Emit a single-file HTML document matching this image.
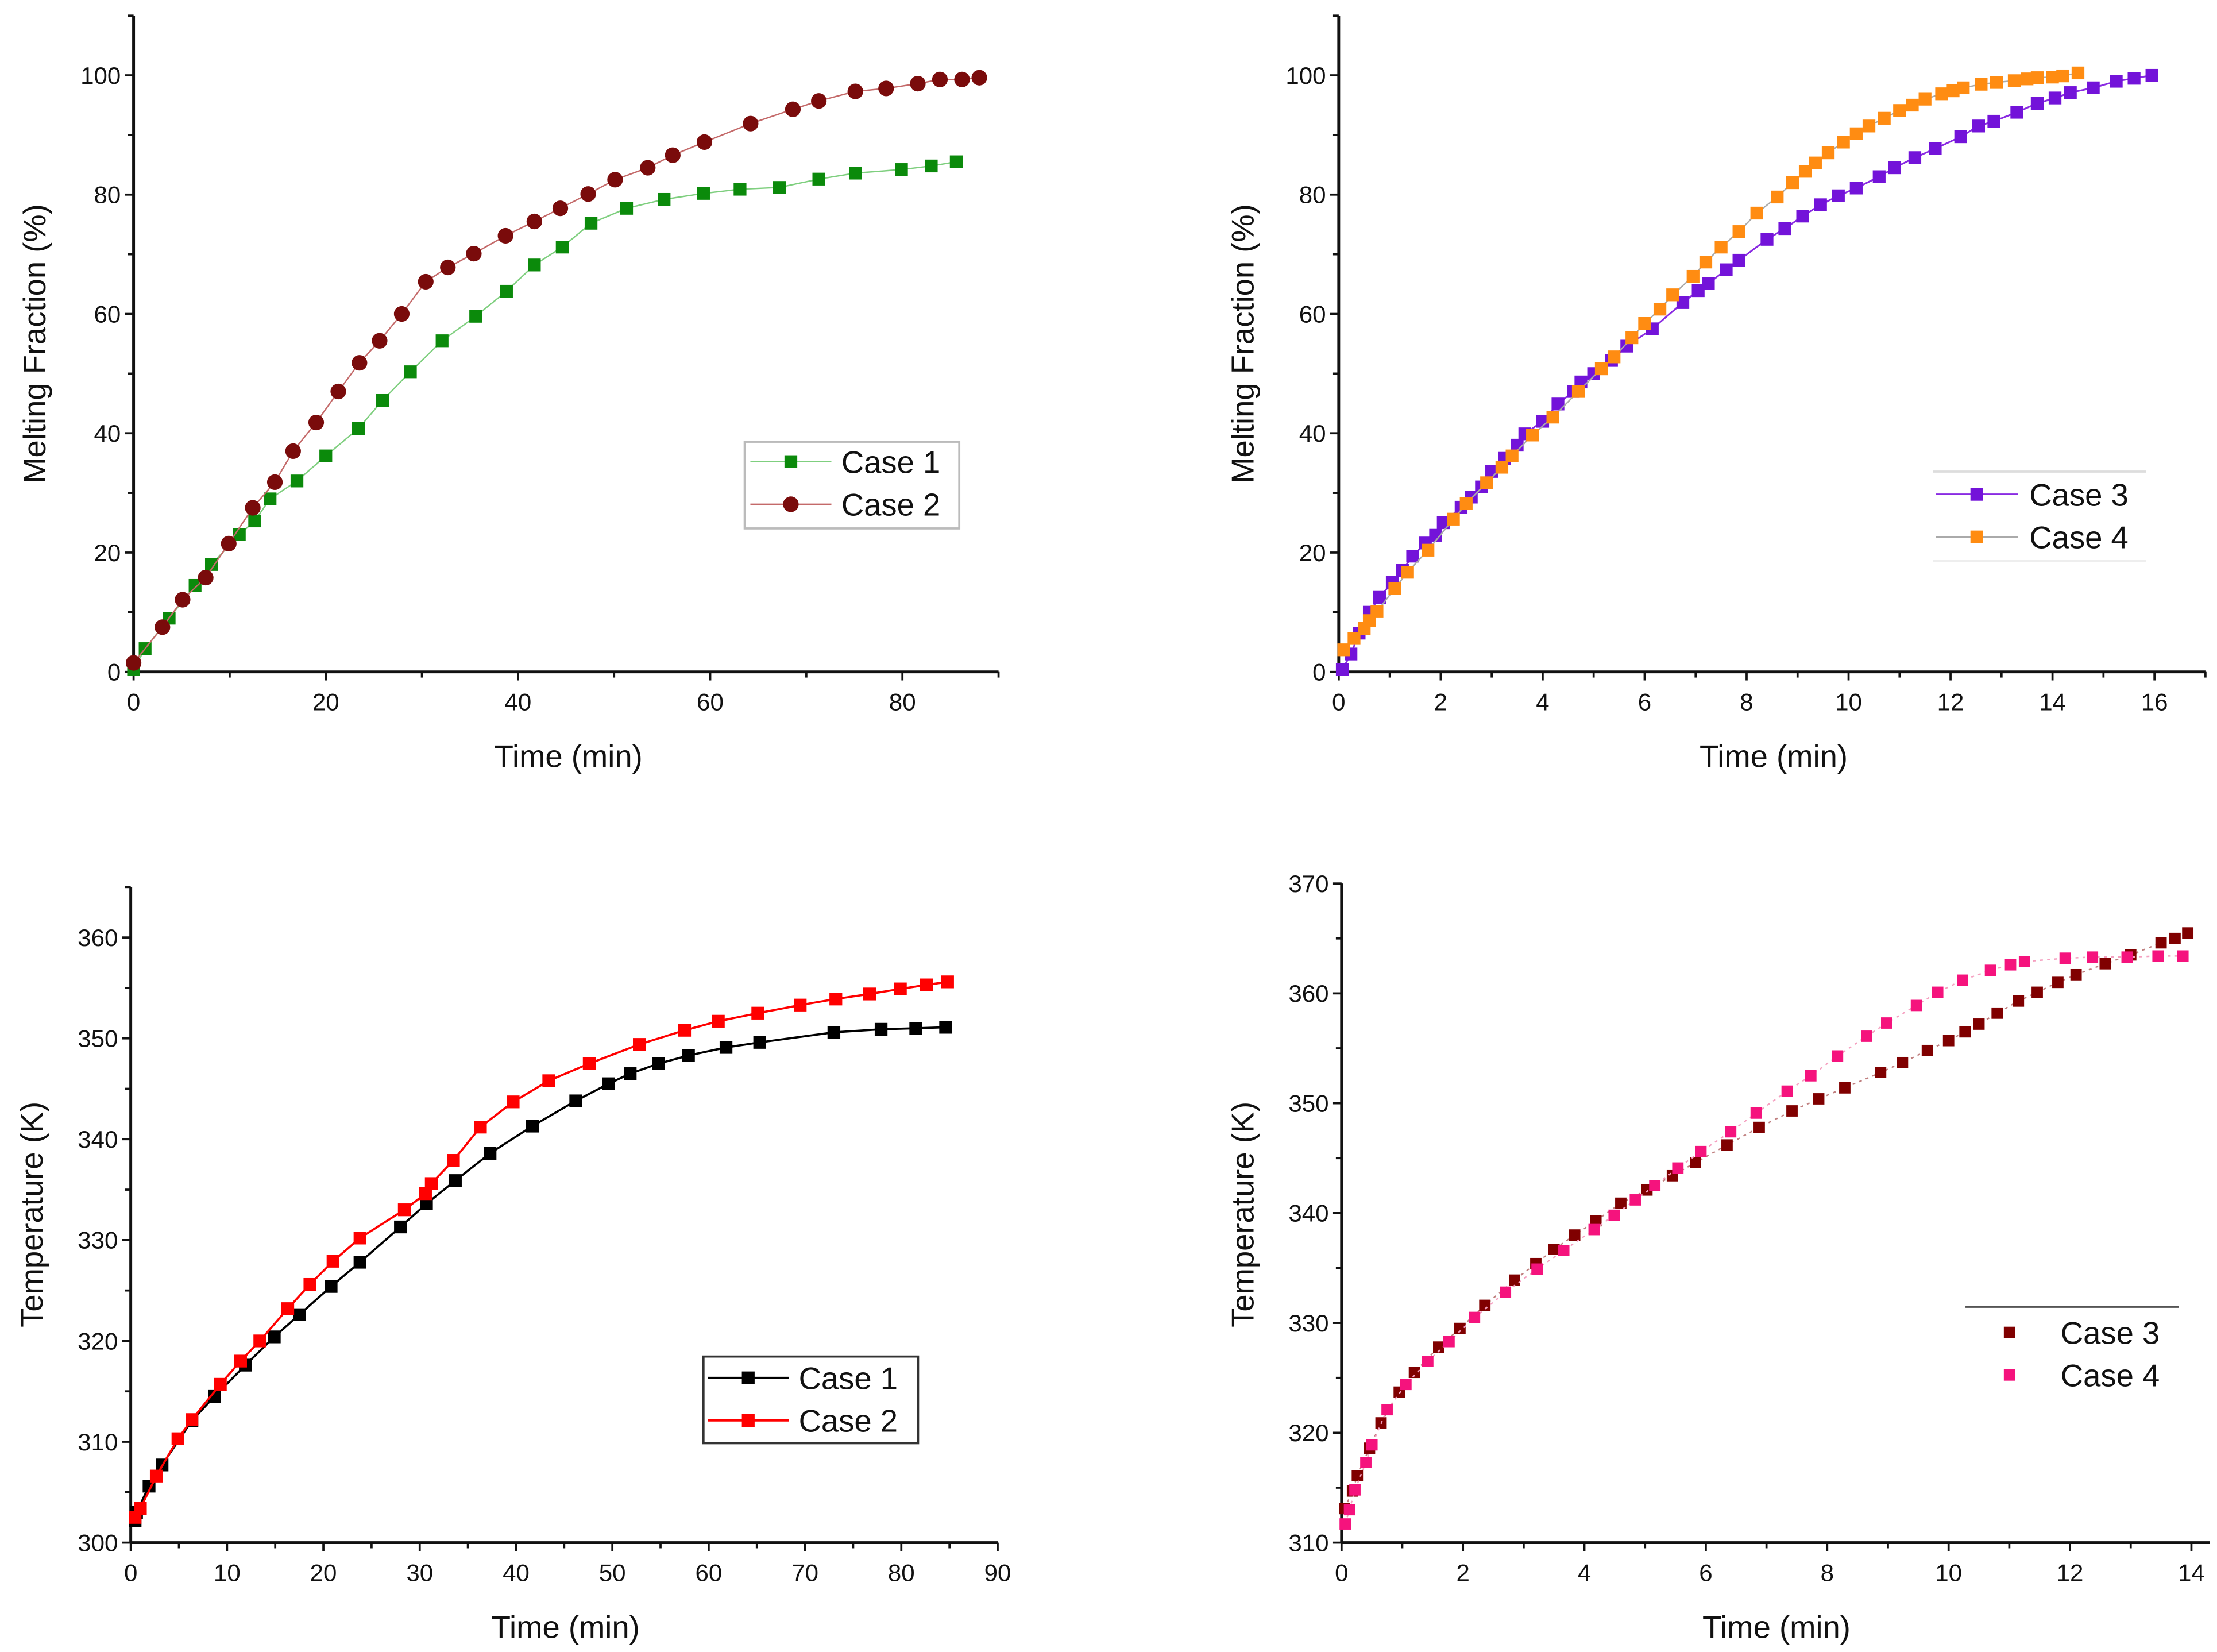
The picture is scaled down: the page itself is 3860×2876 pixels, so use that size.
<!DOCTYPE html>
<html><head><meta charset="utf-8">
<style>
html,body{margin:0;padding:0;background:#fff;}
svg{display:block;}
text{font-family:"Liberation Sans",Arial,sans-serif;fill:#111;}
</style></head>
<body>
<svg id="c" width="3860" height="2876" viewBox="0 0 1560 1163" preserveAspectRatio="none" xmlns="http://www.w3.org/2000/svg"></svg>
<script>
// ---- Panel A data ----
const aCase1X=[0,1.2,3.7,6.4,8.1,11,12.6,14.2,17,20,23.4,25.9,28.8,32.1,35.6,38.8,41.7,44.6,47.6,51.3,55.2,59.3,63.1,67.2,71.3,75.1,79.9,83,85.6];
const aCase1Y=[0.4,3.9,9,14.5,18,23,25.3,29,32,36.2,40.8,45.5,50.3,55.5,59.6,63.8,68.2,71.2,75.2,77.7,79.2,80.2,80.9,81.2,82.6,83.6,84.2,84.8,85.5];
const aCase2X=[0,3,5.1,7.5,9.9,12.4,14.7,16.6,19,21.3,23.5,25.6,27.9,30.4,32.7,35.4,38.7,41.7,44.4,47.3,50.1,53.5,56.1,59.4,64.2,68.6,71.3,75.1,78.3,81.6,83.9,86.2,88];
const aCase2Y=[1.5,7.5,12.1,15.8,21.5,27.5,31.8,37,41.8,47,51.8,55.5,60,65.4,67.8,70.1,73.1,75.5,77.7,80.1,82.5,84.5,86.6,88.8,91.9,94.3,95.7,97.3,97.8,98.6,99.3,99.3,99.6];
const aXTicks=[0,20,40,60,80];
const aYTicks=[0,20,40,60,80,100];
// ---- Panel B data ----
const bCase3X=[0.07,0.24,0.4,0.6,0.8,1.05,1.25,1.45,1.7,1.9,2.05,2.4,2.6,2.8,3.0,3.25,3.5,3.65,4.0,4.3,4.6,4.75,5.0,5.35,5.65,6.15,6.75,7.05,7.25,7.6,7.85,8.4,8.75,9.1,9.45,9.8,10.15,10.6,10.9,11.3,11.7,12.2,12.55,12.85,13.3,13.7,14.05,14.35,14.8,15.25,15.6,15.95];
const bCase3Y=[0.4,3,6.5,10,12.5,15,17,19.4,21.6,22.9,25,27.6,29.3,31,33.6,35.8,38,39.9,42,44.9,47,48.6,50,52.2,54.6,57.5,61.9,63.9,65.1,67.4,69,72.5,74.3,76.4,78.3,79.8,81.1,83,84.5,86.2,87.7,89.7,91.5,92.3,93.8,95.3,96.2,97.1,97.9,99,99.5,100];
const bCase4X=[0.1,0.3,0.5,0.6,0.75,1.1,1.35,1.75,2.25,2.5,2.9,3.2,3.4,3.8,4.2,4.7,5.15,5.4,5.75,6.0,6.3,6.55,6.95,7.2,7.5,7.85,8.2,8.6,8.9,9.15,9.35,9.6,9.9,10.15,10.4,10.7,11.0,11.25,11.5,11.825,12.05,12.25,12.6,12.9,13.25,13.5,13.7,14.0,14.2,14.5];
const bCase4Y=[3.7,5.6,7.3,8.6,10.1,14,16.7,20.4,25.6,28.2,31.7,34.3,36.2,39.7,42.7,47,50.8,52.8,56,58.4,60.8,63.2,66.3,68.7,71.2,73.8,76.9,79.6,82,83.9,85.3,87,88.8,90.2,91.5,92.8,94.1,95,96,96.9,97.4,97.9,98.5,98.8,99.1,99.4,99.6,99.7,99.9,100.4];
const bXTicks=[0,2,4,6,8,10,12,14,16];
const bYTicks=[0,20,40,60,80,100];
// ---- Panel C data ----
const cCase1X=[0.45,0.6,1.9,3.25,6.35,8.7,11.9,14.9,17.5,20.8,23.8,28,30.7,33.7,37.3,41.7,46.2,49.6,51.85,54.8,57.9,61.8,65.3,73,77.9,81.5,84.6];
const cCase1Y=[302.2,303,305.6,307.7,312.1,314.5,317.6,320.4,322.6,325.4,327.8,331.3,333.6,335.9,338.6,341.3,343.8,345.5,346.5,347.5,348.3,349.1,349.6,350.6,350.9,351,351.1];
const cCase2X=[0.45,1,2.65,4.9,6.35,9.3,11.4,13.4,16.3,18.6,21,23.8,28.4,30.6,31.2,33.5,36.3,39.7,43.4,47.6,52.8,57.5,61,65.1,69.5,73.2,76.7,79.9,82.6,84.8];
const cCase2Y=[302.5,303.4,306.6,310.3,312.2,315.7,318,320,323.2,325.6,327.9,330.2,333,334.6,335.6,337.9,341.2,343.7,345.8,347.5,349.4,350.8,351.7,352.5,353.3,353.9,354.4,354.9,355.3,355.6];
const cXTicks=[0,10,20,30,40,50,60,70,80,90];
const cYTicks=[300,310,320,330,340,350,360];
// ---- Panel D data ----
const dCase3X=[0.05,0.18,0.26,0.46,0.65,0.95,1.2,1.6,1.95,2.36,2.85,3.2,3.5,3.84,4.19,4.6,5.03,5.45,5.83,6.35,6.88,7.42,7.86,8.29,8.88,9.24,9.65,10,10.27,10.5,10.8,11.15,11.46,11.8,12.1,12.58,13,13.5,13.73,13.94];
const dCase3Y=[313.1,314.7,316.1,318.6,320.9,323.7,325.5,327.8,329.5,331.6,333.9,335.4,336.7,338,339.3,340.9,342.1,343.4,344.6,346.2,347.8,349.3,350.4,351.4,352.8,353.7,354.8,355.7,356.5,357.2,358.2,359.3,360.1,361,361.7,362.7,363.5,364.6,365,365.5];
const dCase4X=[0.06,0.13,0.22,0.4,0.5,0.75,1.06,1.42,1.77,2.19,2.7,3.22,3.66,4.16,4.49,4.84,5.16,5.54,5.92,6.41,6.83,7.34,7.73,8.17,8.65,8.98,9.47,9.82,10.23,10.69,11.02,11.25,11.92,12.37,12.94,13.45,13.86];
const dCase4Y=[311.7,313,314.8,317.3,318.9,322.1,324.4,326.5,328.3,330.5,332.8,334.9,336.6,338.5,339.8,341.2,342.5,344.1,345.6,347.4,349.1,351.1,352.5,354.3,356.1,357.3,358.9,360.1,361.2,362.1,362.6,362.9,363.2,363.3,363.3,363.4,363.4];
const dXTicks=[0,2,4,6,8,10,12,14];
const dYTicks=[310,320,330,340,350,360,370];

const NS='http://www.w3.org/2000/svg';
const svg=document.getElementById('c');
function mk(tag,attrs,parent){const e=document.createElementNS(NS,tag);for(const k in attrs)e.setAttribute(k,attrs[k]);(parent||svg).appendChild(e);return e;}

function panel(p){
  const g=mk('g',{});
  
  
  const sx=v=>p.px0+(v-p.x0)*(p.px1-p.px0)/(p.x1-p.x0);
  const sy=v=>p.py0-(v-p.y0)*(p.py0-p.py1)/(p.y1-p.y0);
  // axes
  const ax=mk('line',{x1:sx(p.x0),y1:sy(p.y0),x2:sx(p.xmax),y2:sy(p.y0),stroke:'#111','stroke-width':2},g);
  
  
  const ay=mk('line',{x1:sx(p.x0),y1:sy(p.y0),x2:sx(p.x0),y2:sy(p.ymax),stroke:'#111','stroke-width':2},g);
  
  
  for(let v=p.x0;v<=p.xmax+1e-9;v+=p.xminor){
    const major=p.xt.some(t=>Math.abs(t-v)<1e-9);
    mk('line',{x1:sx(v),y1:sy(p.y0),x2:sx(v),y2:sy(p.y0)+(major?6:4),stroke:'#111','stroke-width':1.5},g);
  }
  for(let v=p.y0;v<=p.ymax+1e-9;v+=p.yminor){
    const major=p.yt.some(t=>Math.abs(t-v)<1e-9);
    mk('line',{x1:sx(p.x0),y1:sy(v),x2:sx(p.x0)-(major?6:4),y2:sy(v),stroke:'#111','stroke-width':1.5},g);
  }
  p.xt.forEach(t=>{const e=mk('text',{x:sx(t),y:sy(p.y0)+27,'text-anchor':'middle','font-size':17},g);e.textContent=t;
    
    });
  p.yt.forEach(t=>{const e=mk('text',{x:sx(p.x0)-9,y:sy(t)+6,'text-anchor':'end','font-size':17},g);e.textContent=t;
    
    });
  const xt=mk('text',{x:p.xtx,y:p.xty,'text-anchor':'middle','font-size':22},g);xt.textContent='Time (min)';
  
  
  const yt=mk('text',{x:0,y:0,'text-anchor':'middle','font-size':22,transform:`translate(${p.ytx},${p.yty}) rotate(-90)`},g);yt.textContent=p.ytitle;
  
  
  p.series.forEach(s=>{
    const sg=mk('g',{},g);
    
    
    const pts=s.xs.map((x,i)=>sx(x)+','+sy(s.ys[i])).join(' ');
    if(s.line) mk('polyline',{points:pts,fill:'none',stroke:s.line,'stroke-width':s.lw||1,'stroke-dasharray':s.dash||'none'},sg);
    s.xs.forEach((x,i)=>{
      let m;
      if(s.shape==='circle') m=mk('circle',{cx:sx(x),cy:sy(s.ys[i]),r:5.5,fill:s.color},sg);
      else m=mk('rect',{x:sx(x)-s.ms/2,y:sy(s.ys[i])-s.ms/2,width:s.ms,height:s.ms,fill:s.color},sg);
      
      
    });
  });
  // legend
  const L=p.legend;const lg=mk('g',{},g);
  
  
  if(L.box) mk('rect',{x:L.bx,y:L.by,width:L.bw,height:L.bh,fill:'none',stroke:L.box,'stroke-width':1.5},lg);
  if(L.top) mk('line',{x1:L.bx,y1:L.by,x2:L.bx+L.bw,y2:L.by,stroke:L.top,'stroke-width':1.5},lg);
  if(L.bot) mk('line',{x1:L.bx,y1:L.by+L.bh,x2:L.bx+L.bw,y2:L.by+L.bh,stroke:L.bot,'stroke-width':1.5},lg);
  p.series.forEach((s,i)=>{
    const y=L.ey[i];
    const eg=mk('g',{},lg);
    
    
    if(s.line&&!L.noline) mk('line',{x1:L.lx0,y1:y,x2:L.lx1,y2:y,stroke:s.line,'stroke-width':s.lw||1},eg);
    const mx=(L.lx0+L.lx1)/2;
    if(s.shape==='circle') mk('circle',{cx:mx,cy:y,r:5.5,fill:s.color},eg);
    else mk('rect',{x:mx-s.ms/2,y:y-s.ms/2,width:s.ms,height:s.ms,fill:s.color},eg);
    const t=mk('text',{x:L.tx,y:y+8,'font-size':22},eg);t.textContent=s.label;
  });
}

panel({name:'panel-a-melting-fraction',x0:0,x1:80,px0:94,px1:635,xmax:90,y0:0,y1:100,py0:473,py1:53,ymax:110,
  xt:aXTicks,yt:aYTicks,xminor:10,yminor:10,xtx:400,xty:540,ytx:32,yty:242,ytitle:'Melting Fraction (%)',
  series:[{label:'Case 1',xs:aCase1X,ys:aCase1Y,color:'#0b8a0b',line:'#7fcf7f',shape:'rect',ms:9},
          {label:'Case 2',xs:aCase2X,ys:aCase2Y,color:'#7a0b0b',line:'#c46a6a',shape:'circle'}],
  legend:{bx:524,by:311,bw:151,bh:61,box:'#bbb',ey:[325,355],lx0:528,lx1:585,tx:592}});

panel({name:'panel-b-melting-fraction',x0:0,x1:16,px0:942,px1:1516,xmax:17,y0:0,y1:100,py0:473,py1:53,ymax:110,
  xt:bXTicks,yt:bYTicks,xminor:1,yminor:10,xtx:1248,xty:540,ytx:882,yty:242,ytitle:'Melting Fraction (%)',
  series:[{label:'Case 3',xs:bCase3X,ys:bCase3Y,color:'#7313d9',line:'#8a2be2',shape:'rect',ms:9,lw:1.2},
          {label:'Case 4',xs:bCase4X,ys:bCase4Y,color:'#ff8c12',line:'#aaa',shape:'rect',ms:9}],
  legend:{bx:1360,by:332,bw:150,bh:63,top:'#ddd',bot:'#eee',ey:[348,378],lx0:1362,lx1:1420,tx:1428}});

panel({name:'panel-c-temperature',x0:0,x1:90,px0:92,px1:702,xmax:90,y0:300,y1:360,py0:1086,py1:660,ymax:365,
  xt:cXTicks,yt:cYTicks,xminor:5,yminor:5,xtx:398,xty:1153,ytx:30,yty:855,ytitle:'Temperature (K)',
  series:[{label:'Case 1',xs:cCase1X,ys:cCase1Y,color:'#000',line:'#000',shape:'rect',ms:9,lw:1.5},
          {label:'Case 2',xs:cCase2X,ys:cCase2Y,color:'#ff0000',line:'#ff0000',shape:'rect',ms:9,lw:1.5}],
  legend:{bx:495,by:955,bw:151,bh:61,box:'#333',ey:[970,1000],lx0:498,lx1:555,tx:562}});

panel({name:'panel-d-temperature',x0:0,x1:14,px0:944,px1:1542,xmax:14.3,y0:310,y1:370,py0:1086,py1:622,ymax:370,
  xt:dXTicks,yt:dYTicks,xminor:1,yminor:5,xtx:1250,xty:1153,ytx:882,yty:855,ytitle:'Temperature (K)',
  series:[{label:'Case 3',xs:dCase3X,ys:dCase3Y,color:'#800000',line:'#c08080',shape:'rect',ms:8,dash:'2,3'},
          {label:'Case 4',xs:dCase4X,ys:dCase4Y,color:'#f5137d',line:'#f5a0c0',shape:'rect',ms:8,dash:'2,3'}],
  legend:{bx:1383,by:920,bw:150,bh:60,top:'#555',noline:true,ey:[938,968],lx0:1404,lx1:1424,tx:1450}});
</script>
</body></html>
